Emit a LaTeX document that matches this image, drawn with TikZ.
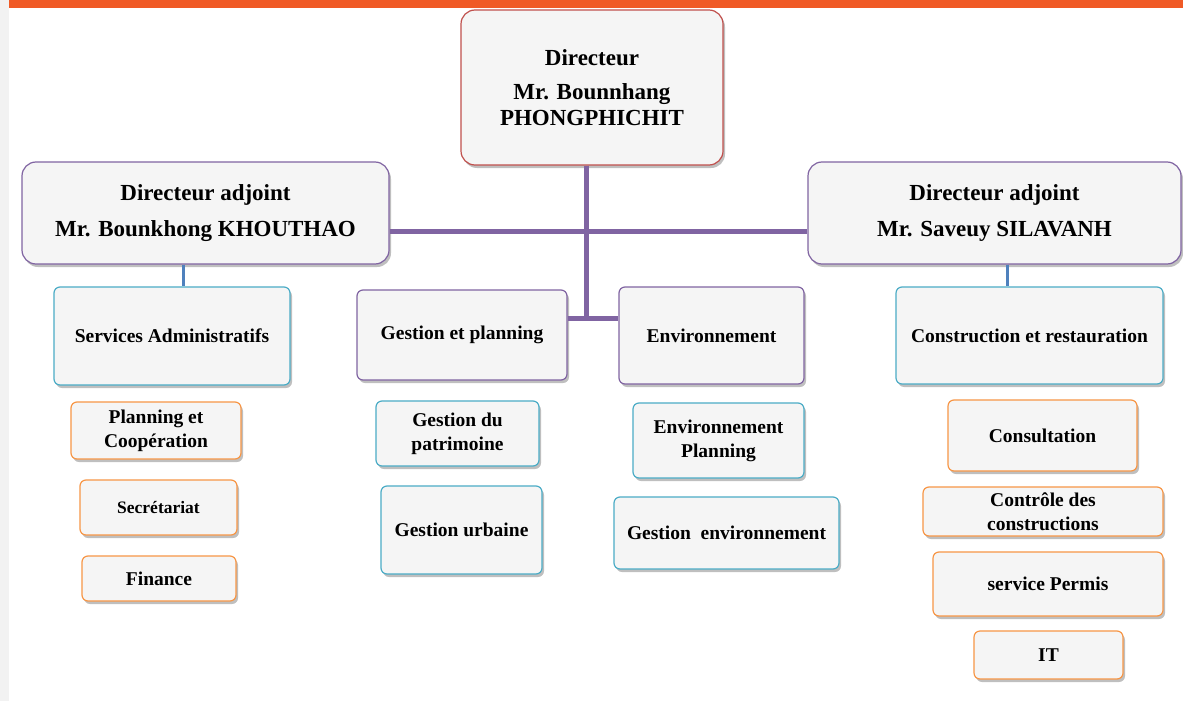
\documentclass[tikz,border=0pt]{standalone}
\usepackage{fontspec}
\setmainfont{Liberation Serif}
\usetikzlibrary{shadows}
\definecolor{barorange}{RGB}{240,90,38}
\definecolor{bred}{HTML}{C0504D}
\definecolor{bpurple}{HTML}{8064A2}
\definecolor{bcyan}{HTML}{4BACC6}
\definecolor{borange}{HTML}{F79646}
\definecolor{bblue}{HTML}{4F81BD}
\definecolor{boxfill}{HTML}{F5F5F5}
\definecolor{stripgray}{HTML}{F2F2F2}
\tikzset{
  box/.style={draw, line width=1.2pt, fill=boxfill, rounded corners=6pt, inner sep=0pt, align=center,
    font=\bfseries\fontsize{19.5}{24}\selectfont,
    drop shadow={shadow xshift=2pt, shadow yshift=-3pt, opacity=0.25, fill=black}},
  bigbox/.style={box, rounded corners=14pt, font=\bfseries\fontsize{23}{26}\selectfont},
  redbox/.style={bigbox, draw=bred},
  purplebig/.style={bigbox, draw=bpurple},
  purplebox/.style={box, draw=bpurple},
  cyanbox/.style={box, draw=bcyan},
  orangebox/.style={box, draw=borange},
  mainline/.style={draw=bpurple, line width=5pt},
  subline/.style={draw=bblue, line width=3pt},
}
\begin{document}
\begin{tikzpicture}[x=1pt,y=-1pt]
\useasboundingbox (0,0) rectangle (1183,701);
\fill[white] (0,0) rectangle (1183,701);
\fill[stripgray] (0,0) rectangle (9,701);
\fill[barorange] (9,0) rectangle (1183,8);

\coordinate (j) at (586,318);
\coordinate (hl) at (0,231);
\coordinate (cl) at (183,0);
\coordinate (cr) at (1007,0);

\node[redbox, minimum width=262pt, minimum height=155pt] (top) at (592,87.5)
  {Directeur\\[8pt]Mr. Bounnhang\\PHONGPHICHIT};
\node[purplebig, minimum width=367pt, minimum height=102pt] (lda) at (205.5,213)
  {Directeur adjoint\\[10pt]Mr. Bounkhong KHOUTHAO};
\node[purplebig, minimum width=373pt, minimum height=102pt] (rda) at (994.5,213)
  {Directeur adjoint\\[10pt]Mr. Saveuy SILAVANH};

\node[cyanbox, minimum width=236pt, minimum height=98pt] (sa) at (172,336) {Services Administratifs};
\node[purplebox, minimum width=210pt, minimum height=90pt] (gp) at (462,335) {Gestion et planning};
\node[purplebox, minimum width=185pt, minimum height=97pt] (env) at (711.5,335.5) {Environnement};
\node[cyanbox, minimum width=267pt, minimum height=97pt] (crs) at (1029.5,335.5) {Construction et restauration};

\node[orangebox, minimum width=170pt, minimum height=57pt] (pc) at (156,430.5) {Planning et\\Coopération};
\node[orangebox, minimum width=157pt, minimum height=55pt, font=\bfseries\fontsize{17.5}{21}\selectfont] (sec) at (158.5,507.5) {Secrétariat};
\node[orangebox, minimum width=154pt, minimum height=45pt] (fin) at (159,578.5) {Finance};

\node[cyanbox, minimum width=163pt, minimum height=65pt] (gdp) at (457.5,433.5) {Gestion du\\patrimoine};
\node[cyanbox, minimum width=161pt, minimum height=88pt] (gu) at (461.5,530) {Gestion urbaine};

\node[cyanbox, minimum width=171pt, minimum height=75pt] (ep) at (718.5,440.5) {Environnement\\Planning};
\node[cyanbox, minimum width=225pt, minimum height=72pt] (ge) at (726.5,533) {Gestion\ \ environnement};

\node[orangebox, minimum width=189pt, minimum height=71pt] (con) at (1042.5,435.5) {Consultation};
\node[orangebox, minimum width=240pt, minimum height=49pt] (cdc) at (1043,511.5) {Contrôle des\\constructions};
\node[orangebox, minimum width=230pt, minimum height=64pt] (sp) at (1048,584) {service Permis};
\node[orangebox, minimum width=149pt, minimum height=48pt] (it) at (1048.5,655) {IT};

\draw[mainline] (top.south -| j) -- (j);
\draw[mainline] (lda.east |- hl) -- (rda.west |- hl);
\draw[mainline] (gp.east |- j) -- (j) -- (env.west |- j);
\draw[subline] (lda.south -| cl) -- (sa.north -| cl);
\draw[subline] (rda.south -| cr) -- (crs.north -| cr);
\end{tikzpicture}
\end{document}
